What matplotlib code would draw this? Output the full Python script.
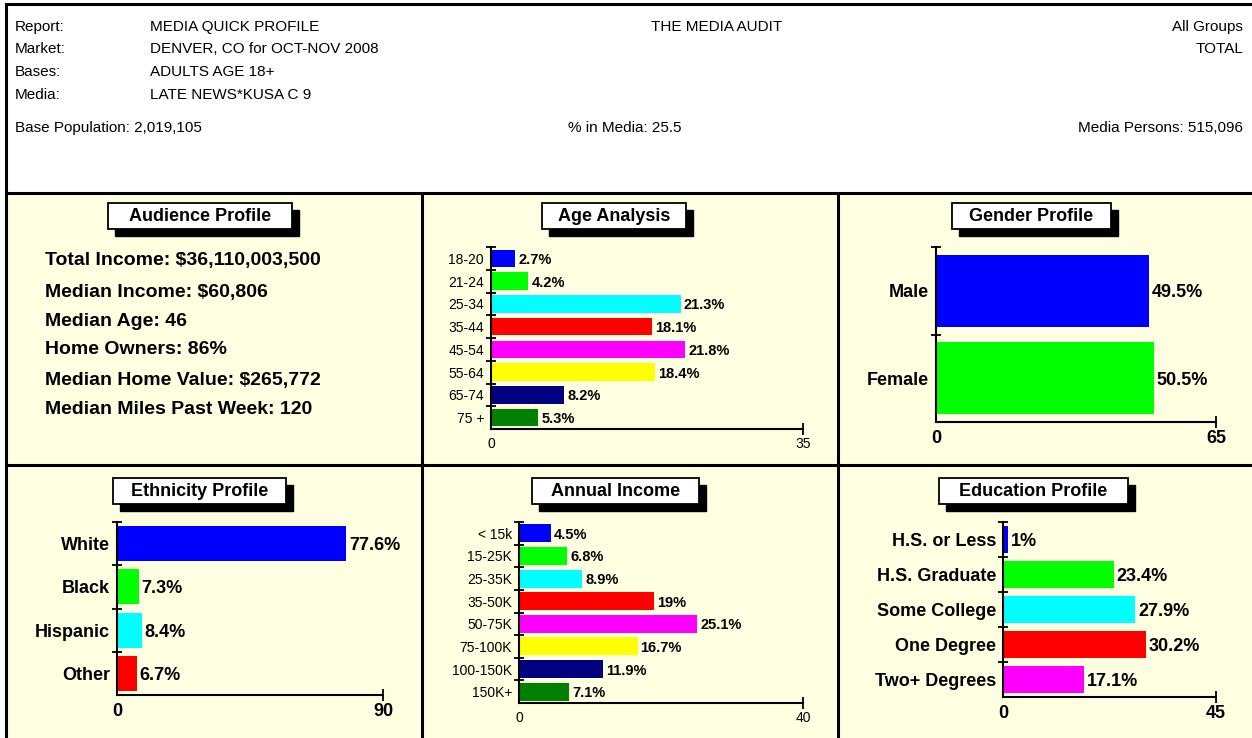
import matplotlib
matplotlib.use('Agg')
import matplotlib.pyplot as plt
from matplotlib.patches import Rectangle

plt.rcParams['font.family'] = ['Liberation Sans', 'DejaVu Sans']

W, H = 1252, 738
BG = '#FFFFE1'

# header info
header_left = [("Report:", "MEDIA QUICK PROFILE"),
               ("Market:", "DENVER, CO for OCT-NOV 2008"),
               ("Bases:", "ADULTS AGE 18+"),
               ("Media:", "LATE NEWS*KUSA C 9")]
header_title = "THE MEDIA AUDIT"
header_right = ["All Groups", "TOTAL"]
base_population = "Base Population: 2,019,105"
pct_in_media = "% in Media: 25.5"
media_persons = "Media Persons: 515,096"

audience_lines = ["Total Income: $36,110,003,500",
                  "Median Income: $60,806",
                  "Median Age: 46",
                  "Home Owners: 86%",
                  "Median Home Value: $265,772",
                  "Median Miles Past Week: 120"]

age_labels = ['18-20', '21-24', '25-34', '35-44', '45-54', '55-64', '65-74', '75 +']
age_values = [2.7, 4.2, 21.3, 18.1, 21.8, 18.4, 8.2, 5.3]

gender_labels = ['Male', 'Female']
gender_values = [49.5, 50.5]

eth_labels = ['White', 'Black', 'Hispanic', 'Other']
eth_values = [77.6, 7.3, 8.4, 6.7]

income_labels = ['< 15k', '15-25K', '25-35K', '35-50K', '50-75K', '75-100K', '100-150K', '150K+']
income_values = [4.5, 6.8, 8.9, 19, 25.1, 16.7, 11.9, 7.1]

edu_labels = ['H.S. or Less', 'H.S. Graduate', 'Some College', 'One Degree', 'Two+ Degrees']
edu_values = [1, 23.4, 27.9, 30.2, 17.1]

palette = ['#0000FF', '#00FF00', '#00FFFF', '#FF0000', '#FF00FF', '#FFFF00', '#000080', '#008000']

fig = plt.figure(figsize=(W / 100, H / 100), dpi=100)
bg = fig.add_axes([0, 0, 1, 1])
bg.set_xlim(0, W)
bg.set_ylim(H, 0)
bg.axis('off')

# panel backgrounds and frame
bg.add_patch(Rectangle((6, 4), W, 189, facecolor='white', edgecolor='none'))
bg.add_patch(Rectangle((6, 193), W, H, facecolor=BG, edgecolor='none'))
lw = 2.2
bg.plot([6, W], [4, 4], color='black', lw=lw)
bg.plot([6, W], [193, 193], color='black', lw=lw)
bg.plot([6, W], [465, 465], color='black', lw=lw)
bg.plot([6, 6], [4, H], color='black', lw=lw)
for xv in (422, 838):
    bg.plot([xv, xv], [193, H], color='black', lw=lw)

# header text
hs = 11
for i, (k, v) in enumerate(header_left):
    y = [27, 49, 72, 95][i]
    bg.text(15, y, k, fontsize=hs, va='center', ha='left')
    bg.text(150, y, v, fontsize=hs, va='center', ha='left')
bg.text(717, 27, header_title, fontsize=hs, va='center', ha='center')
bg.text(1243, 27, header_right[0], fontsize=hs, va='center', ha='right')
bg.text(1243, 49, header_right[1], fontsize=hs, va='center', ha='right')
bg.text(15, 128, base_population, fontsize=hs, va='center', ha='left')
bg.text(625, 128, pct_in_media, fontsize=hs, va='center', ha='center')
bg.text(1243, 128, media_persons, fontsize=hs, va='center', ha='right')


def title_box(x0, x1, y0, text):
    h = 26
    bg.add_patch(Rectangle((x0 + 7, y0 + 7), x1 - x0, h, facecolor='black', edgecolor='black'))
    bg.add_patch(Rectangle((x0, y0), x1 - x0, h, facecolor='white', edgecolor='black', lw=1.3))
    bg.text((x0 + x1) / 2, y0 + h / 2 + 0.5, text, fontsize=13, fontweight='bold',
            ha='center', va='center')


title_box(108, 292, 203, "Audience Profile")
title_box(542, 686, 203, "Age Analysis")
title_box(952, 1111, 203, "Gender Profile")
title_box(113, 286, 478, "Ethnicity Profile")
title_box(532, 699, 478, "Annual Income")
title_box(939, 1128, 478, "Education Profile")

for i, line in enumerate(audience_lines):
    y = [261, 292, 321, 350, 380, 409][i]
    bg.text(45, y, line, fontsize=14, fontweight='bold', va='center', ha='left')


def bar_panel(box, labels, values, xmax, bar_h, big):
    x0, yt, x1, yb = box
    ax = fig.add_axes([x0 / W, 1 - yb / H, (x1 - x0) / W, (yb - yt) / H])
    ax.patch.set_alpha(0)
    n = len(values)
    pos = list(range(n))
    ax.barh(pos, values, height=bar_h, color=palette[:n], edgecolor='none')
    ax.set_xlim(0, xmax)
    ax.set_ylim(n - 0.5, -0.5)
    for s in ('top', 'right'):
        ax.spines[s].set_visible(False)
    for s in ('left', 'bottom'):
        ax.spines[s].set_linewidth(1.5)
    if big:
        lab_kw = dict(fontsize=13, fontweight='bold')
        val_kw = dict(fontsize=13, fontweight='bold')
    else:
        lab_kw = dict(fontsize=10)
        val_kw = dict(fontsize=10.5, fontweight='bold')
    ax.set_yticks(pos)
    ax.set_yticklabels(labels, **lab_kw)
    ax.tick_params(axis='y', which='major', length=0, pad=5)
    ax.set_yticks([p - 0.5 for p in pos], minor=True)
    ax.tick_params(axis='y', which='minor', direction='inout', length=7, width=1.3)
    ax.set_xticks([0, xmax])
    ax.set_xticklabels(['0', str(xmax)], **lab_kw)
    ax.tick_params(axis='x', direction='inout', length=8, width=1.3, pad=2)
    ax.xaxis.get_major_ticks()[0].tick1line.set_visible(False)
    for p, v in zip(pos, values):
        ax.annotate(f"{v:g}%", (v, p), xytext=(3, 0), textcoords='offset pixels',
                    va='center_baseline', ha='left', **val_kw)
    return ax


bar_panel((491, 247, 803, 429), age_labels, age_values, 35, 0.77, False)
bar_panel((936, 247, 1216, 422), gender_labels, gender_values, 65, 0.82, True)
bar_panel((117, 522, 383, 695), eth_labels, eth_values, 90, 0.81, True)
bar_panel((519, 522, 803, 703), income_labels, income_values, 40, 0.8, False)
bar_panel((1003, 522, 1216, 697), edu_labels, edu_values, 45, 0.78, True)

fig.savefig('out.png', dpi=100)
